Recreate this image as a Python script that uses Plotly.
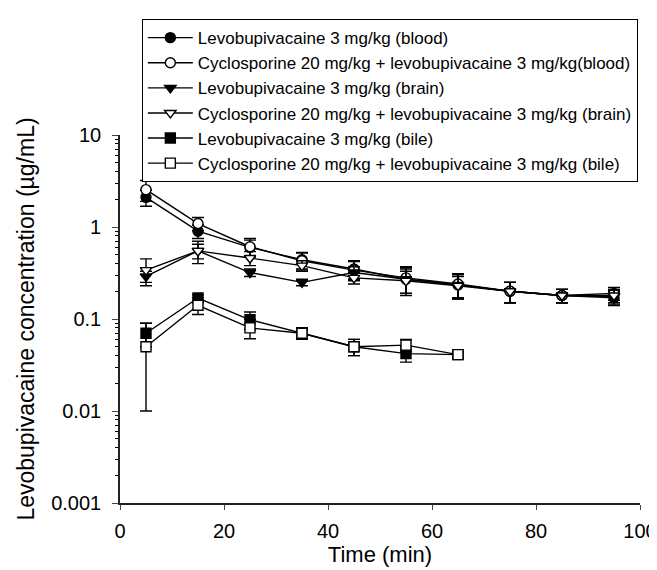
import plotly.graph_objects as go

time = [5, 15, 25, 35, 45, 55, 65, 75, 85, 95]
time_bile = [5, 15, 25, 35, 45, 55, 65]

blood_ctrl = [2.1, 0.9, 0.6, 0.44, 0.35, 0.27, 0.235, 0.2, 0.18, 0.17]
blood_ctrl_err = [0.42, 0.15, 0.12, 0.09, 0.08, 0.09, 0.07, 0.05, 0.03, 0.03]
blood_cys = [2.55, 1.09, 0.61, 0.43, 0.34, 0.28, 0.24, 0.2, 0.18, 0.19]
blood_cys_err = [0.65, 0.18, 0.14, 0.09, 0.08, 0.09, 0.07, 0.05, 0.03, 0.03]

brain_ctrl = [0.29, 0.55, 0.32, 0.25, 0.32, 0.27, 0.235, 0.2, 0.18, 0.175]
brain_ctrl_err = [0.04, 0.15, 0.03, 0.02, 0.05, 0.08, 0.07, 0.05, 0.03, 0.03]
brain_cys = [0.34, 0.55, 0.46, 0.38, 0.28, 0.26, 0.23, 0.2, 0.18, 0.18]
brain_cys_err = [0.11, 0.1, 0.08, 0.05, 0.04, 0.07, 0.06, 0.05, 0.03, 0.03]

bile_ctrl = [0.07, 0.169, 0.098, 0.07, 0.05, 0.042, 0.041]
bile_ctrl_err = [0.02, 0.015, 0.021, 0.01, 0.01, 0.008, 0.003]
bile_cys = [0.05, 0.141, 0.08, 0.07, 0.05, 0.052, 0.041]
bile_cys_err = [0.04, 0.029, 0.019, 0.01, 0.01, 0.008, 0.003]

labels = [
    "Levobupivacaine 3 mg/kg (blood)",
    "Cyclosporine 20 mg/kg + levobupivacaine 3 mg/kg(blood)",
    "Levobupivacaine 3 mg/kg (brain)",
    "Cyclosporine 20 mg/kg + levobupivacaine 3 mg/kg (brain)",
    "Levobupivacaine 3 mg/kg (bile)",
    "Cyclosporine 20 mg/kg + levobupivacaine 3 mg/kg (bile)",
]

y_ticks = [0.001, 0.01, 0.1, 1, 10]
y_tick_text = ["0.001", "0.01", "0.1", "1", "10"]

series = [
    (time, blood_ctrl, blood_ctrl_err, "circle", "black"),
    (time, blood_cys, blood_cys_err, "circle", "white"),
    (time, brain_ctrl, brain_ctrl_err, "triangle-down", "black"),
    (time, brain_cys, brain_cys_err, "triangle-down", "white"),
    (time_bile, bile_ctrl, bile_ctrl_err, "square", "black"),
    (time_bile, bile_cys, bile_cys_err, "square", "white"),
]

fig = go.Figure()
for (x, y, e, sym, fill), name in zip(series, labels):
    fig.add_trace(go.Scatter(
        x=x, y=y, name=name, mode="lines+markers",
        line=dict(color="black", width=1.4),
        marker=dict(symbol=sym, size=10, color=fill, line=dict(color="black", width=1.4)),
        error_y=dict(type="data", array=e, color="black", thickness=1.4, width=6),
    ))

fig.update_layout(
    width=657, height=570,
    margin=dict(l=112, r=25, t=127, b=75, autoexpand=False),
    plot_bgcolor="white", paper_bgcolor="white",
    font=dict(family="Liberation Sans, Arial, sans-serif", color="black"),
    showlegend=True,
    legend=dict(x=0.042, y=1.315, xanchor="left", yanchor="top",
                bordercolor="black", borderwidth=1, bgcolor="white",
                font=dict(size=17), tracegroupgap=0, itemwidth=45),
    xaxis=dict(range=[0, 100], dtick=20, ticks="outside", ticklen=5, tickwidth=1.4,
               showline=True, linecolor="#222", linewidth=1.6, showgrid=False,
               zeroline=False, tickfont=dict(size=20), ticklabelstandoff=4,
               title=dict(text="Time (min)", font=dict(size=22), standoff=3)),
    yaxis=dict(type="log", range=[-3, 1], tickvals=y_ticks, ticktext=y_tick_text,
               ticks="outside", ticklen=6, tickwidth=1.4,
               minor=dict(ticks="outside", ticklen=3, dtick="D1", tickcolor="black"),
               showline=True, linecolor="#222", linewidth=1.6, showgrid=False,
               zeroline=False, tickfont=dict(size=20), ticklabelstandoff=7,
               title=dict(text="Levobupivacaine concentration (µg/mL)", font=dict(size=23), standoff=10)),
)

fig.write_html("out.html")
